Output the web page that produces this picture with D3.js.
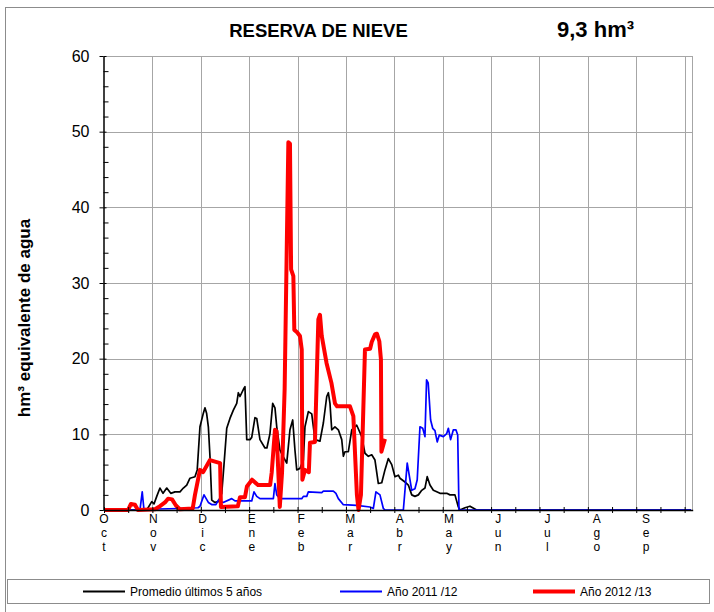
<!DOCTYPE html>
<html>
<head>
<meta charset="utf-8">
<script src="https://cdn.jsdelivr.net/npm/d3@7"></script>
<style>
  body { margin: 0; background: #fff; }
  svg { font-family: Arial, "Liberation Sans", sans-serif; }
</style>
</head>
<body>
<svg id="chart" width="714" height="612"></svg>
<script>
// month labels, one every ~30.5 days starting on 1 Oct
const monthLabels = ["Oct", "Nov", "Dic", "Ene", "Feb", "Mar", "Abr", "May", "Jun", "Jul", "Ago", "Sep"];
const yTicks = [0, 10, 20, 30, 40, 50, 60];

// Promedio últimos 5 años (day of hydrological year, hm3)
const promedioDays = [0, 26.5, 29.6, 31, 32.7, 34.7, 36.6, 38.9, 41.4, 44, 47.1, 49.2, 51.3, 53.3, 56.4, 57.8,
  59.5, 61.6, 62.6, 63.6, 64.7, 65.7, 66.8, 68.8, 70.9, 73, 74.4, 76.1, 78.1, 80.2, 82.3, 83.3, 84.3, 86.8,
  87.4, 88.5, 90.5, 91.6, 93.6, 94.7, 96.7, 99.8, 101, 102.9, 104.6, 106, 107.1, 109.1, 111.2, 113.3, 115.3,
  117, 118.4, 119.5, 121.5, 123.6, 124.6, 126.7, 128.8, 130.8, 133.9, 136, 138.1, 139.1, 140.1, 141.2, 143.2,
  145.3, 147.4, 148.4, 149.4, 151.5, 153.6, 156.7, 159.8, 161.8, 163.9, 166, 168, 170.1, 172.2, 174.2, 176.3,
  178.4, 180.4, 182.5, 183.5, 186.6, 188.7, 190.8, 192.8, 194.9, 197, 199, 200.4, 202.1, 204.2, 206.3, 208.3,
  212.5, 214.5, 217.6, 219.7, 220.7, 223.8, 226.9, 229.4, 231, 364];
const promedioVals = [0, 0, 1.1, 0.8, 1.8, 2.9, 2.2, 2.9, 2.2, 2.4, 2.4, 2.9, 3.3, 4.2, 4.4, 5.3,
  11, 12.8, 13.5, 12.8, 11, 7.1, 1.3, 1, 1.1, 2.2, 6, 10.8, 12.1, 13.2, 14.1, 15.5, 15, 16.1,
  16.3, 9.3, 9.3, 9.6, 12.2, 12.1, 9.3, 8.2, 8.2, 10.1, 14.1, 13.5, 11, 7.9, 7, 6.2, 10.6,
  11.9, 7.9, 5.3, 5.5, 6.6, 11, 13, 12.7, 9.3, 9.1, 11.5, 15, 15.5, 14.1, 10.6, 11,
  10.6, 9.3, 7.1, 7.7, 7.7, 10.6, 11.2, 9.7, 7.5, 7.1, 7.3, 6.6, 3.5, 3.6, 5.3, 6.8,
  6, 4.4, 4.6, 4.2, 3.7, 3.3, 2, 1.8, 2, 2.6, 2.9, 4.4, 3.3, 2.6, 2.4, 2.2,
  2.2, 2, 2, 0.4, 0, 0.3, 0.5, 0.2, 0, 0];

// Año 2011/12
const y2011Days = [0, 22.3, 23.7, 24.8, 26, 47.1, 58.3, 59.5, 62, 64.7, 67, 69.4, 70.9, 73.9, 79.2, 81.2,
  91.6, 93, 94.7, 96.7, 105, 106, 107.1, 109.1, 122.6, 123.6, 125.7, 126.7, 135, 136, 142.2, 143.8, 145.3,
  148.4, 156.7, 164.9, 167, 168.6, 171.1, 173.2, 174.2, 185.6, 188, 189.7, 190.8, 192.8, 194.2, 195.9, 197.6,
  199, 200, 201, 202.5, 203.8, 205.2, 206.6, 207.9, 210.4, 212.5, 213.5, 214.9, 216.6, 218.2, 219.3, 220.1, 364];
const y2011Vals = [0, 0, 2.4, 0, 0.1, 0.2, 0.3, 0.5, 2, 1, 0.7, 0.7, 1.3, 1, 1.5, 1.2,
  1.2, 2.4, 1.8, 1.5, 1.5, 3.5, 2, 1.5, 1.5, 1.8, 1.8, 2.4, 2.3, 2.5, 2.5, 2.2, 1.5,
  0.7, 0.6, 0.4, 0.2, 2.4, 2, 0.2, 0, 0, 6.2, 4, 2.6, 2.8, 4, 11, 10.8,
  9.7, 17.2, 16.8, 11.9, 10.8, 10.5, 9, 9.9, 9.7, 10.1, 10.8, 9.3, 10.6, 10.6, 9.9, 0, 0];

// Año 2012/13 (season in progress)
const y2012Days = [0, 14.9, 16.7, 19.2, 21, 31.6, 34.7, 37.8, 39.7, 42.2, 44.6, 47, 55, 56.4, 59.5, 61.4,
  65.7, 72, 72.5, 83, 84.3, 87.4, 88.6, 91.8, 95.5, 103, 104, 106, 107, 109, 110.4, 112, 114.3, 115.3, 116,
  117.4, 118, 119.7, 121.5, 122.6, 123, 124.6, 127, 127.7, 130.8, 132.9, 133.9, 135, 138, 141, 143.2, 144.5,
  152.5, 154.6, 156.8, 157.8, 159.3, 161.8, 165, 166, 168, 169.2, 170.7, 171.7, 172, 174.2];
const y2012Vals = [0, 0, 0.8, 0.7, 0, 0.1, 0.5, 1, 1.5, 1.4, 0.6, 0.1, 0.2, 2, 5.3, 5,
  6.6, 6.2, 0.4, 0.5, 1.7, 1.7, 3.1, 4, 3.3, 3.3, 5, 10.6, 10.4, 0.4, 5, 16, 48.6, 48.4, 31.8,
  30.9, 23.8, 23.5, 23, 21.2, 4, 5.3, 5, 8.9, 9, 25.2, 25.8, 23, 19.4, 16.8, 14.1, 13.7,
  13.7, 12.4, 2, 0, 2, 21.2, 21.3, 22.2, 23.2, 23.3, 22.3, 19.9, 7.7, 9.4];

const series = [
  { name: "Promedio últimos 5 años", days: promedioDays, vals: promedioVals, color: "#000000", width: 1.7 },
  { name: "Año 2011 /12", days: y2011Days, vals: y2011Vals, color: "#0000ff", width: 1.7 },
  { name: "Año 2012 /13", days: y2012Days, vals: y2012Vals, color: "#ff0000", width: 4 }
];

const svg = d3.select("#chart");

// outer chart frame (runs past the window on the right / bottom)
svg.append("rect")
  .attr("x", 5.5).attr("y", 7.5).attr("width", 740).attr("height", 640)
  .attr("fill", "none").attr("stroke", "#8c8c8c");

const x = d3.scaleLinear().domain([0, 365]).range([104, 692.7]);
const y = d3.scaleLinear().domain([0, 60]).range([510, 56]);

// gridlines
const grid = svg.append("g").attr("stroke", "#a6a6a6").attr("stroke-width", 1);
grid.selectAll(".hg").data(yTicks.slice(1)).enter().append("line")
  .attr("x1", x(0)).attr("x2", x(365))
  .attr("y1", d => Math.round(y(d)) + 0.5).attr("y2", d => Math.round(y(d)) + 0.5);
grid.selectAll(".vg").data(d3.range(30, 361, 30)).enter().append("line")
  .attr("x1", d => Math.round(x(d)) + 0.5).attr("x2", d => Math.round(x(d)) + 0.5)
  .attr("y1", y(60)).attr("y2", y(0));
grid.append("line")  // plot right edge
  .attr("x1", Math.round(x(365)) - 0.5).attr("x2", Math.round(x(365)) - 0.5)
  .attr("y1", y(60)).attr("y2", y(0));

// series
const line = d3.line().x(d => x(d[0])).y(d => y(d[1]));
svg.append("g").selectAll("path").data(series).enter().append("path")
  .attr("d", s => line(s.days.map((d, i) => [d, s.vals[i]])))
  .attr("fill", "none")
  .attr("stroke", s => s.color)
  .attr("stroke-width", s => s.width)
  .attr("stroke-linejoin", "round");

// y axis: major ticks crossing, minor ticks inside every 2
const yAxis = svg.append("g").attr("transform", "translate(103.5,0)")
  .call(d3.axisLeft(y).tickValues(yTicks).tickSizeInner(4).tickSizeOuter(0).tickPadding(10));
yAxis.select(".domain").attr("stroke", "#000").attr("stroke-width", 1.5);
yAxis.selectAll(".tick text").attr("font-size", 16).attr("fill", "#000");
yAxis.selectAll(".tick").append("line").attr("x2", 3).attr("stroke", "#000");
svg.append("g").attr("transform", "translate(103.5,0)")
  .call(d3.axisRight(y).tickValues(d3.range(2, 60, 2).filter(v => v % 10)).tickSize(5).tickFormat(""))
  .call(g => g.select(".domain").remove());

// x axis: ticks every 15 days
const xAxis = svg.append("g").attr("transform", "translate(0,510)")
  .call(d3.axisBottom(x).tickValues(d3.range(0, 365, 15)).tickSizeInner(3).tickSizeOuter(0).tickFormat(""));
xAxis.select(".domain").attr("stroke", "#000").attr("stroke-width", 1.5);
xAxis.selectAll(".tick").append("line").attr("y2", -3).attr("stroke", "#000");

// month labels, letters stacked vertically
const ml = svg.append("g").attr("font-size", 12).attr("fill", "#000").attr("text-anchor", "middle");
monthLabels.forEach((m, k) => {
  const t = ml.append("text").attr("x", x(k * 30.55)).attr("y", 523);
  m.split("").forEach((ch, j) => {
    t.append("tspan").attr("x", x(k * 30.55)).attr("dy", j === 0 ? 0 : 14).text(ch);
  });
});

// titles
svg.append("text").attr("x", 318.5).attr("y", 37).attr("text-anchor", "middle")
  .attr("font-size", 18.5).attr("font-weight", "bold").text("RESERVA DE NIEVE");
svg.append("text").attr("x", 557).attr("y", 37)
  .attr("font-size", 22).attr("font-weight", "bold").text("9,3 hm³");
svg.append("text").attr("transform", "translate(30,318) rotate(-90)").attr("text-anchor", "middle")
  .attr("font-size", 17).attr("font-weight", "bold").text("hm³ equivalente de agua");

// legend
const lg = svg.append("g");
lg.append("rect").attr("x", 7.5).attr("y", 579.5).attr("width", 702).attr("height", 24)
  .attr("fill", "#fff").attr("stroke", "#8c8c8c");
const legendX = [83, 340, 533];
series.forEach((s, i) => {
  lg.append("line").attr("x1", legendX[i]).attr("x2", legendX[i] + 42)
    .attr("y1", 591.5).attr("y2", 591.5)
    .attr("stroke", s.color).attr("stroke-width", i === 2 ? 4 : 2);
  lg.append("text").attr("x", legendX[i] + 47).attr("y", 596)
    .attr("font-size", 12).text(s.name);
});
</script>
</body>
</html>
